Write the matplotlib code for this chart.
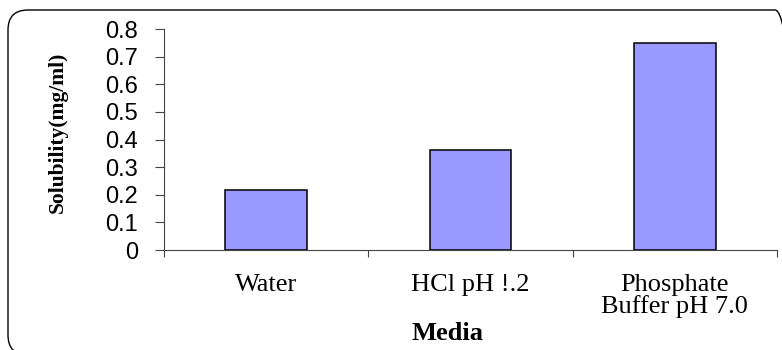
import matplotlib
matplotlib.use("Agg")
import matplotlib.pyplot as plt
from matplotlib.patches import FancyBboxPatch
import numpy as np

media = ["Water", "HCl pH !.2", "Phosphate\nBuffer pH 7.0"]
solubility = [0.216, 0.363, 0.748]
y_ticks = [0, 0.1, 0.2, 0.3, 0.4, 0.5, 0.6, 0.7, 0.8]
y_tick_labels = ["0", "0.1", "0.2", "0.3", "0.4", "0.5", "0.6", "0.7", "0.8"]

SERIF = "Liberation Serif"
SANS = "Liberation Sans"

fig = plt.figure(figsize=(7.82, 3.5), dpi=100)

# rounded frame round the chart, drawn in inches; right and bottom run off the canvas
frame = FancyBboxPatch((0.08, -0.05), 7.87, 3.45,
                       boxstyle="round,pad=0,rounding_size=0.2",
                       transform=fig.dpi_scale_trans, facecolor="none",
                       edgecolor="black", linewidth=1.0)
fig.patches.append(frame)

ax = fig.add_axes([0.2097, 0.2857, 0.7839, 0.6314])
ax.patch.set_alpha(0)

x = np.arange(len(media))
ax.bar(x, solubility, width=0.4, color="#9999FF", edgecolor="black",
       linewidth=1.1, zorder=3)

ax.set_xlim(-0.5, len(media) - 0.5)
ax.set_ylim(0, 0.8)

for side in ["top", "right"]:
    ax.spines[side].set_visible(False)
for side in ["left", "bottom"]:
    ax.spines[side].set_color("#444444")
    ax.spines[side].set_linewidth(0.8)

ax.set_yticks(y_ticks)
ax.set_yticklabels(y_tick_labels, fontfamily=SANS, fontsize=17)
ax.tick_params(axis="y", direction="out", length=6.5, width=0.8,
               color="#444444", pad=12)

# category boundaries carry the tick marks, names sit between them
ax.set_xticks(np.arange(-0.5, len(media), 1.0))
ax.set_xticklabels([])
ax.tick_params(axis="x", which="major", direction="out", length=5,
               width=0.8, color="#444444")
ax.set_xticks(x, minor=True)
ax.set_xticklabels(media, minor=True, fontfamily=SERIF, fontsize=19,
                   linespacing=0.95)
ax.tick_params(axis="x", which="minor", length=0, pad=17)

fig.text(0.074, 0.623, "Solubility(mg/ml)", rotation=90, ha="center",
         va="center", fontfamily=SERIF, fontweight="bold", fontsize=15.5)
fig.text(0.572, 0.046, "Media", ha="center", va="center",
         fontfamily=SERIF, fontweight="bold", fontsize=19)

fig.savefig("out.png", dpi=100)
